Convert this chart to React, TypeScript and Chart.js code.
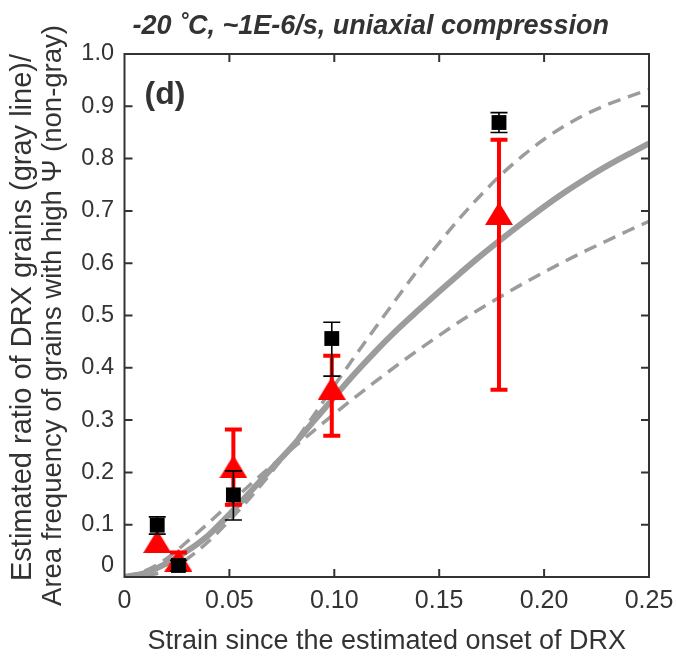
import React, { useEffect, useRef } from 'react';
import { Chart, registerables } from 'chart.js';

Chart.register(...registerables);

const chartTitle = '-20 ˚C, ~1E-6/s, uniaxial compression';
const panelLabel = '(d)';
const xAxisTitle = 'Strain since the estimated onset of DRX';
const yAxisTitle = [
  'Estimated ratio of DRX grains (gray line)/',
  'Area frequency of grains with high Ψ (non-gray)',
];

const xTickValues = [0, 0.05, 0.1, 0.15, 0.2, 0.25];
const xTickLabels = ['0', '0.05', '0.10', '0.15', '0.20', '0.25'];
const yTickValues = [0, 0.1, 0.2, 0.3, 0.4, 0.5, 0.6, 0.7, 0.8, 0.9, 1.0];
const yTickLabels = ['0', '0.1', '0.2', '0.3', '0.4', '0.5', '0.6', '0.7', '0.8', '0.9', '1.0'];

// Gray fitted DRX curves
const fitStrain = [
  0, 0.01, 0.02, 0.03, 0.04, 0.05, 0.06, 0.07, 0.08, 0.09, 0.1, 0.11, 0.12,
  0.13, 0.14, 0.15, 0.16, 0.17, 0.18, 0.19, 0.2, 0.21, 0.22, 0.23, 0.24, 0.25,
];
const drxFit = [
  0, 0.008, 0.026, 0.05, 0.08, 0.12, 0.163, 0.207, 0.25, 0.297, 0.344, 0.39, 0.433,
  0.473, 0.51, 0.546, 0.581, 0.615, 0.647, 0.678, 0.708, 0.736, 0.762, 0.786, 0.808, 0.829,
];
const drxUpper = [
  0, 0.003, 0.012, 0.035, 0.068, 0.108, 0.152, 0.2, 0.252, 0.308, 0.366, 0.423, 0.479,
  0.534, 0.588, 0.639, 0.687, 0.731, 0.771, 0.806, 0.837, 0.863, 0.885, 0.903, 0.918, 0.932,
];
const drxLower = [
  0, 0.012, 0.035, 0.068, 0.103, 0.14, 0.177, 0.212, 0.246, 0.279, 0.312, 0.344, 0.375,
  0.405, 0.434, 0.462, 0.489, 0.514, 0.538, 0.561, 0.583, 0.604, 0.624, 0.643, 0.662, 0.68,
];

// Black squares with error bars
const squareStrain = [0.0156, 0.0257, 0.0519, 0.0988, 0.1785];
const squareValue = [0.099, 0.022, 0.157, 0.456, 0.869];
const squareLow = [0.082, 0.012, 0.109, 0.384, 0.85];
const squareHigh = [0.115, 0.032, 0.203, 0.487, 0.888];

// Red triangles with error bars
const triangleStrain = [0.0156, 0.0257, 0.0519, 0.0988, 0.1785];
const triangleValue = [0.068, 0.032, 0.211, 0.361, 0.695];
const triangleLow = [0.068, 0.018, 0.138, 0.27, 0.358];
const triangleHigh = [0.068, 0.047, 0.282, 0.423, 0.836];

const FONT = '"Liberation Sans", Arial, Helvetica, sans-serif';
const TEXT = '#333333';
const AXIS = '#333333';
const GRAY = '#9c9c9c';
const RED = '#ff0000';

function makeTriangle(): HTMLCanvasElement {
  const c = document.createElement('canvas');
  c.width = 28;
  c.height = 23;
  const g = c.getContext('2d')!;
  g.fillStyle = RED;
  g.beginPath();
  g.moveTo(0, 23);
  g.lineTo(14, 0);
  g.lineTo(28, 23);
  g.closePath();
  g.fill();
  return c;
}

const decorations = {
  id: 'decorations',
  beforeDatasetDraw(chart: any, args: any) {
    const ds = chart.data.datasets[args.index];
    const eb = ds.errorBars;
    if (!eb) return;
    const { ctx } = chart;
    const x = chart.scales.x;
    const y = chart.scales.y;
    ctx.save();
    ctx.strokeStyle = eb.color;
    ctx.lineWidth = eb.width;
    eb.lo.forEach((lo: number, i: number) => {
      const hi = eb.hi[i];
      if (hi - lo <= 0) return;
      const px = x.getPixelForValue(eb.xs[i]);
      const pl = y.getPixelForValue(lo);
      const ph = y.getPixelForValue(hi);
      ctx.beginPath();
      ctx.moveTo(px, pl);
      ctx.lineTo(px, ph);
      ctx.moveTo(px - eb.cap / 2, pl);
      ctx.lineTo(px + eb.cap / 2, pl);
      ctx.moveTo(px - eb.cap / 2, ph);
      ctx.lineTo(px + eb.cap / 2, ph);
      ctx.stroke();
    });
    ctx.restore();
  },
  afterDatasetsDraw(chart: any) {
    const { ctx, chartArea: a } = chart;
    const x = chart.scales.x;
    const y = chart.scales.y;
    ctx.save();
    ctx.strokeStyle = AXIS;
    ctx.lineWidth = 2;
    ctx.strokeRect(a.left, a.top, a.right - a.left, a.bottom - a.top);
    const tl = 8;
    ctx.beginPath();
    xTickValues.forEach((v) => {
      const px = x.getPixelForValue(v);
      if (px <= a.left + 1 || px >= a.right - 1) return;
      ctx.moveTo(px, a.bottom);
      ctx.lineTo(px, a.bottom - tl);
      ctx.moveTo(px, a.top);
      ctx.lineTo(px, a.top + tl);
    });
    yTickValues.forEach((v) => {
      const py = y.getPixelForValue(v);
      if (py <= a.top + 1 || py >= a.bottom - 1) return;
      ctx.moveTo(a.left, py);
      ctx.lineTo(a.left + tl, py);
      ctx.moveTo(a.right, py);
      ctx.lineTo(a.right - tl, py);
    });
    ctx.stroke();
    ctx.restore();
  },
  afterDraw(chart: any) {
    const { ctx, chartArea: a } = chart;
    const y = chart.scales.y;
    ctx.save();
    ctx.fillStyle = TEXT;
    // title
    ctx.font = `italic bold 27px ${FONT}`;
    ctx.textAlign = 'center';
    ctx.textBaseline = 'alphabetic';
    ctx.fillText(chartTitle, (a.left + a.right) / 2 - 16, 34);
    // panel label
    ctx.font = `bold 32px ${FONT}`;
    ctx.textAlign = 'left';
    ctx.fillText(panelLabel, a.left + 20, a.top + 50);
    // y "0" label, raised above its tick as in the original
    ctx.font = `23.5px ${FONT}`;
    ctx.textAlign = 'right';
    ctx.textBaseline = 'middle';
    ctx.fillText(yTickLabels[0], a.left - 10.5, y.getPixelForValue(yTickValues[0]) - 11);
    // y-axis title (two rotated lines)
    const cy = (a.top + a.bottom) / 2;
    ctx.textAlign = 'center';
    ctx.textBaseline = 'middle';
    ctx.save();
    ctx.translate(23, cy + 2);
    ctx.rotate(-Math.PI / 2);
    ctx.font = `29px ${FONT}`;
    ctx.fillText(yAxisTitle[0], 0, 0);
    ctx.restore();
    ctx.save();
    ctx.translate(53, cy);
    ctx.rotate(-Math.PI / 2);
    ctx.font = `27.5px ${FONT}`;
    ctx.fillText(yAxisTitle[1], 0, 0);
    ctx.restore();
    ctx.restore();
  },
};

export default function App() {
  const ref = useRef<HTMLCanvasElement>(null);
  useEffect(() => {
    if (!ref.current) return;
    const tri = makeTriangle();
    const chart = new Chart(ref.current, {
      type: 'line',
      data: {
        datasets: [
          {
            type: 'scatter',
            data: squareStrain.map((sx, i) => ({ x: sx, y: squareValue[i] })),
            pointStyle: 'rect',
            pointRadius: 10.5,
            backgroundColor: '#000000',
            borderColor: '#000000',
            borderWidth: 0,
            showLine: false,
            clip: false,
            errorBars: { xs: squareStrain, lo: squareLow, hi: squareHigh, color: '#000000', width: 1.6, cap: 17 },
          } as any,
          {
            type: 'scatter',
            data: triangleStrain.map((sx, i) => ({ x: sx, y: triangleValue[i] })),
            pointStyle: tri,
            pointRadius: 14,
            backgroundColor: RED,
            borderColor: RED,
            showLine: false,
            clip: false,
            errorBars: { xs: triangleStrain, lo: triangleLow, hi: triangleHigh, color: RED, width: 4, cap: 17 },
          } as any,
          {
            data: fitStrain.map((sx, i) => ({ x: sx, y: drxFit[i] })),
            borderColor: GRAY,
            borderWidth: 6,
            pointRadius: 0,
            cubicInterpolationMode: 'monotone',
            fill: false,
          },
          {
            data: fitStrain.map((sx, i) => ({ x: sx, y: drxUpper[i] })),
            borderColor: GRAY,
            borderWidth: 3.5,
            borderDash: [13, 8],
            pointRadius: 0,
            cubicInterpolationMode: 'monotone',
            fill: false,
          },
          {
            data: fitStrain.map((sx, i) => ({ x: sx, y: drxLower[i] })),
            borderColor: GRAY,
            borderWidth: 3.5,
            borderDash: [13, 8],
            pointRadius: 0,
            cubicInterpolationMode: 'monotone',
            fill: false,
          },
        ],
      },
      options: {
        responsive: false,
        animation: false,
        events: [],
        layout: { padding: { top: 54, right: 27, left: 0, bottom: 0 } },
        plugins: {
          legend: { display: false },
          title: { display: false },
          tooltip: { enabled: false },
        },
        scales: {
          x: {
            type: 'linear',
            min: 0,
            max: 0.25,
            grid: { display: false, drawTicks: false },
            border: { display: false },
            afterBuildTicks: (s: any) => {
              s.ticks = xTickValues.map((v) => ({ value: v }));
            },
            afterFit: (s: any) => {
              s.height = 79;
              s.paddingLeft = 0;
              s.paddingRight = 0;
            },
            ticks: {
              autoSkip: false,
              maxRotation: 0,
              padding: 9,
              color: TEXT,
              font: { family: FONT, size: 25 },
              callback: (_v: any, i: number) => xTickLabels[i],
            },
            title: {
              display: true,
              text: xAxisTitle,
              color: TEXT,
              font: { family: FONT, size: 27, lineHeight: 1.05 },
              padding: { top: 0, bottom: 0 },
            },
          },
          y: {
            type: 'linear',
            min: 0,
            max: 1,
            grid: { display: false, drawTicks: false },
            border: { display: false },
            afterBuildTicks: (s: any) => {
              s.ticks = yTickValues.map((v) => ({ value: v }));
            },
            afterFit: (s: any) => {
              s.width = 124.5;
              s.paddingTop = 0;
              s.paddingBottom = 0;
            },
            ticks: {
              autoSkip: false,
              padding: 10.5,
              color: TEXT,
              font: { family: FONT, size: 23.5 },
              callback: (_v: any, i: number) => (i === 0 ? '' : yTickLabels[i]),
            },
            title: { display: false },
          },
        },
      },
      plugins: [decorations],
    });
    return () => chart.destroy();
  }, []);
  return (
    <div style={{ position: 'fixed', left: 0, top: 0, width: 676, height: 656, background: '#fff' }}>
      <canvas ref={ref} width={676} height={656} style={{ display: 'block', width: 676, height: 656 }} />
    </div>
  );
}
